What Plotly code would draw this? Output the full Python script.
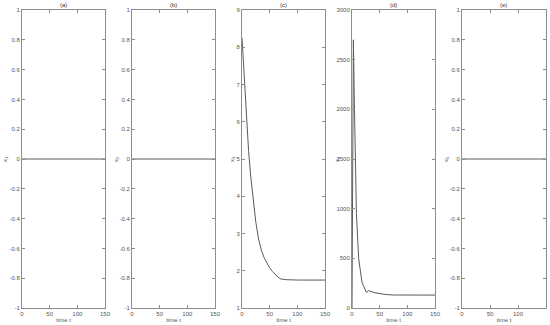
import plotly.graph_objects as go
from plotly.subplots import make_subplots

# data
panel_titles = ['(a)', '(b)', '(c)', '(d)', '(e)']
y_labels = ['x<sub>1</sub>', 'x<sub>2</sub>', 'x<sub>3</sub>', 'x<sub>4</sub>', 'x<sub>5</sub>']

t_flat = [0, 150]
x1 = [0, 0]
x2 = [0, 0]
x5 = [0, 0]

t_x3 = [0, 3, 6, 9, 12, 16, 20, 25, 30, 35, 40, 45, 50, 55, 60, 65, 70, 80, 100, 125, 150]
x3 = [8.25, 7.4, 6.6, 5.9, 5.2, 4.5, 3.95, 3.3, 2.85, 2.55, 2.35, 2.2, 2.08, 1.98,
      1.9, 1.83, 1.78, 1.76, 1.75, 1.75, 1.75]

t_x4 = [0, 2.5, 4, 6, 8, 12, 18, 26, 30, 40, 50, 60, 75, 100, 150]
x4 = [0, 2700, 2150, 1500, 950, 500, 260, 155, 175, 155, 143, 136, 131, 130, 130]

x_ticks = [0, 50, 100, 150]
flat_ticks = [-1, -0.8, -0.6, -0.4, -0.2, 0, 0.2, 0.4, 0.6, 0.8, 1]
flat_ticktext = ['-1', '-0.8', '-0.6', '-0.4', '-0.2', '0', '0.2', '0.4', '0.6', '0.8', '1']
x3_ticks = [1, 2, 3, 4, 5, 6, 7, 8, 9]
x4_ticks = [0, 500, 1000, 1500, 2000, 2500, 3000]

series = [(t_flat, x1), (t_flat, x2), (t_x3, x3), (t_x4, x4), (t_flat, x5)]
y_ranges = [[-1, 1], [-1, 1], [1, 9], [0, 3000], [-1, 1]]

W, H = 550, 325
x_domains_px = [(22, 105), (132, 215), (242, 325), (352, 435), (462, 546)]
ylabel_px = [5, 116, 232, 337, 446]
y_dom = [1 - 308 / H, 1 - 10 / H]

axis_col = '#8c8c8c'
text_col = '#555555'
line_col = '#5a5a5a'
font_fam = 'Liberation Sans'

fig = make_subplots(rows=1, cols=5)

for i, (tx, ty) in enumerate(series):
    fig.add_trace(go.Scatter(x=tx, y=ty, mode='lines',
                             line=dict(color=line_col, width=1),
                             showlegend=False, hoverinfo='skip'),
                  row=1, col=i + 1)

annotations = []
for i in range(5):
    n = '' if i == 0 else str(i + 1)
    x0, x1p = x_domains_px[i]
    dom = [x0 / W, x1p / W]
    common = dict(showline=True, linecolor=axis_col, linewidth=1, mirror='ticks',
                  ticks='inside', ticklen=3, tickcolor=axis_col, tickwidth=1,
                  showgrid=False, zeroline=False, automargin=False,
                  tickfont=dict(size=6, color=text_col, family=font_fam))
    fig.layout['xaxis' + n].update(domain=dom, range=[0, 150], tickvals=x_ticks,
                                   title=dict(text='time t', standoff=1,
                                              font=dict(size=6, color=text_col,
                                                        family=font_fam)),
                                   **common)
    if i in (0, 1, 4):
        yt = dict(tickvals=flat_ticks, ticktext=flat_ticktext)
    elif i == 2:
        yt = dict(tickvals=x3_ticks)
    else:
        yt = dict(tickvals=x4_ticks)
    fig.layout['yaxis' + n].update(domain=y_dom, range=y_ranges[i], **yt, **common)

    annotations.append(dict(text=panel_titles[i], x=(dom[0] + dom[1]) / 2, y=y_dom[1],
                            xref='paper', yref='paper', xanchor='center', yanchor='bottom',
                            showarrow=False,
                            font=dict(size=6, color='#333333', family=font_fam)))
    annotations.append(dict(text=y_labels[i], x=ylabel_px[i] / W, y=(y_dom[0] + y_dom[1]) / 2,
                            xref='paper', yref='paper', xanchor='center', yanchor='middle',
                            textangle=-90, showarrow=False,
                            font=dict(size=6, color=text_col, family=font_fam)))

fig.update_layout(width=W, height=H, margin=dict(l=0, r=0, t=0, b=0),
                  paper_bgcolor='white', plot_bgcolor='white',
                  annotations=annotations)

# drop the page's default body margin so the figure sits at the top-left corner
fig.write_html("out.html", config={'displayModeBar': False},
               post_script="document.body.style.margin='0';")
